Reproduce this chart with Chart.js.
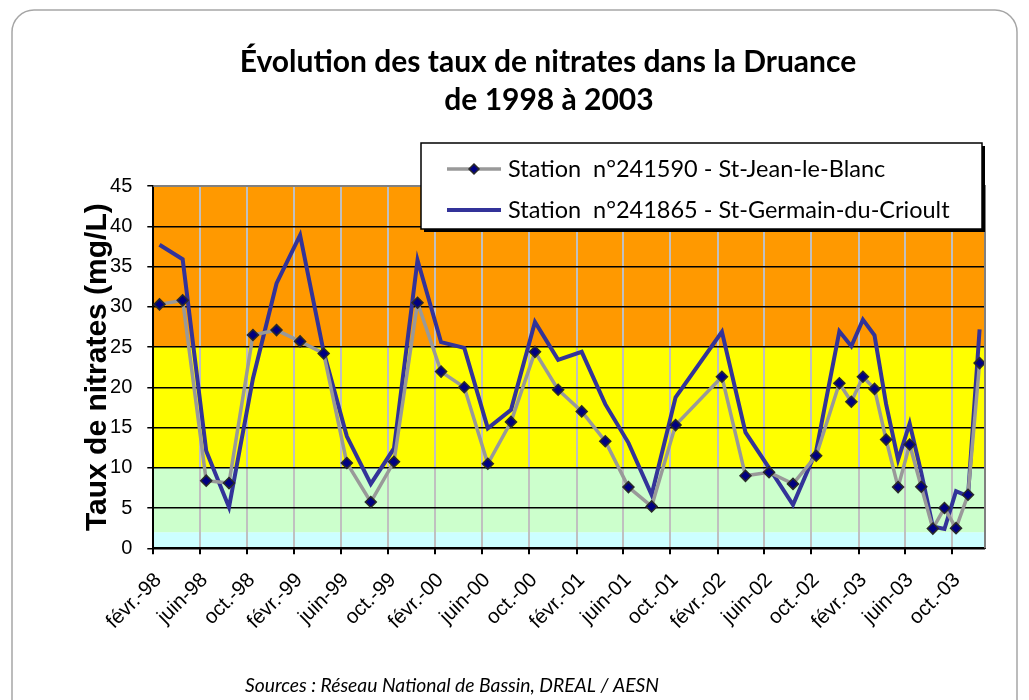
<!DOCTYPE html>
<html>
<head>
<meta charset="utf-8">
<script src="https://cdn.jsdelivr.net/npm/chart.js@4.4.0/dist/chart.umd.min.js"></script>
<style>
  html, body { margin: 0; padding: 0; background: #fff; }
  #wrap { width: 1029px; height: 700px; }
</style>
</head>
<body>
<div id="wrap"><canvas id="myChart" width="1029" height="700"></canvas></div>
<script>
// ---- data ----
const titleLines = ['Évolution des taux de nitrates dans la Druance', 'de 1998 à 2003'];
const seriesNames = ['Station  n°241590 - St-Jean-le-Blanc', 'Station  n°241865 - St-Germain-du-Crioult'];
const sourceText = 'Sources : Réseau National de Bassin, DREAL / AESN';
const yTitle = 'Taux de nitrates (mg/L)';

const sampleDates = [
  '1998-02-17', '1998-04-18', '1998-06-18', '1998-08-16', '1998-10-17', '1998-12-17',
  '1999-02-16', '1999-04-18', '1999-06-17', '1999-08-18', '1999-10-17', '1999-12-17',
  '2000-02-16', '2000-04-16', '2000-06-16', '2000-08-15', '2000-10-16', '2000-12-15',
  '2001-02-14', '2001-04-16', '2001-06-15', '2001-08-14', '2001-10-15',
  '2002-02-12', '2002-04-14', '2002-06-14', '2002-08-15', '2002-10-14', '2002-12-13',
  '2003-01-13', '2003-02-12', '2003-03-14', '2003-04-13', '2003-05-14', '2003-06-13',
  '2003-07-13', '2003-08-12', '2003-09-11', '2003-10-11', '2003-11-11', '2003-12-11'
];
const stJean = [
  30.3, 30.8, 8.4, 8.1, 26.5, 27.1,
  25.7, 24.2, 10.6, 5.75, 10.75, 30.5,
  21.95, 20.0, 10.5, 15.7, 24.4, 19.7,
  17.0, 13.3, 7.6, 5.2, 15.3,
  21.3, 9.0, 9.45, 8.0, 11.5, 20.5,
  18.2, 21.3, 19.8, 13.5, 7.6, 12.9,
  7.65, 2.45, 5.0, 2.5, 6.65, 23.0
];
const stGermain = [
  37.7, 35.9, 12.1, 5.1, 21.1, 32.9,
  38.9, 24.4, 13.9, 8.0, 12.4, 35.8,
  25.6, 24.9, 14.9, 17.2, 28.1, 23.4,
  24.4, 17.9, 13.1, 6.65, 18.75,
  26.9, 14.4, 10.0, 5.4, 12.1, 26.95,
  25.1, 28.4, 26.45, 17.9, 11.0, 15.5,
  9.4, 2.7, 2.4, 7.1, 6.45, 27.2
];

const axisStart = '1998-02-01';
const axisEnd = '2003-12-25';
const tickDates = [
  '1998-02-01', '1998-06-01', '1998-10-01', '1999-02-01', '1999-06-01', '1999-10-01',
  '2000-02-01', '2000-06-01', '2000-10-01', '2001-02-01', '2001-06-01', '2001-10-01',
  '2002-02-01', '2002-06-01', '2002-10-01', '2003-02-01', '2003-06-01', '2003-10-01'
];
const tickLabels = [
  'févr.-98', 'juin-98', 'oct.-98', 'févr.-99', 'juin-99', 'oct.-99',
  'févr.-00', 'juin-00', 'oct.-00', 'févr.-01', 'juin-01', 'oct.-01',
  'févr.-02', 'juin-02', 'oct.-02', 'févr.-03', 'juin-03', 'oct.-03'
];
const bandLimits = [0, 2, 10, 25, 45];
const bandColors = ['#ccffff', '#ccffcc', '#ffff00', '#ff9900'];

function dayOf(s) {
  return (Date.parse(s) - Date.parse(axisStart)) / 86400000;
}
function toPoints(vals) {
  return vals.map((v, i) => ({ x: dayOf(sampleDates[i]), y: v }));
}

const grayColor = '#999999';
const blueColor = '#333399';
const markerFill = '#000080';
const markerEdge = '#2a2a2a';

// background frame, title, sources, bands
const backdrop = {
  id: 'backdrop',
  beforeDraw(chart) {
    const ctx = chart.ctx;
    const area = chart.chartArea;
    const y = chart.scales.y;
    ctx.save();
    ctx.fillStyle = '#fff';
    ctx.fillRect(0, 0, chart.width, chart.height);
    // rounded frame
    ctx.strokeStyle = '#a6a6a6';
    ctx.lineWidth = 1.5;
    ctx.beginPath();
    ctx.roundRect(12, 10, 1005, 720, 22);
    ctx.stroke();
    // title
    ctx.fillStyle = '#000';
    ctx.textAlign = 'center';
    ctx.textBaseline = 'middle';
    ctx.font = 'bold 30px Lato';
    ctx.fillText(titleLines[0], 548, 62);
    ctx.fillText(titleLines[1], 549, 100);
    // sources
    ctx.font = 'italic 19.3px Lato';
    ctx.fillText(sourceText, 452, 686);
    // colour bands
    for (let i = 0; i < bandColors.length; i++) {
      const top = y.getPixelForValue(bandLimits[i + 1]);
      const bot = y.getPixelForValue(bandLimits[i]);
      ctx.fillStyle = bandColors[i];
      ctx.fillRect(area.left, top, area.right - area.left, bot - top);
    }
    ctx.restore();
  },
  afterDraw(chart) {
    const ctx = chart.ctx;
    const area = chart.chartArea;
    ctx.save();
    // plot area border (top, right)
    ctx.strokeStyle = '#808080';
    ctx.lineWidth = 2;
    ctx.beginPath();
    ctx.moveTo(area.left, area.top);
    ctx.lineTo(area.right, area.top);
    ctx.lineTo(area.right, area.bottom);
    ctx.stroke();

    // legend box
    const bx = 421, by = 143, bw = 561, bh = 86;
    ctx.fillStyle = '#000';
    ctx.fillRect(bx + 3, by + 3, bw, bh);
    ctx.fillStyle = '#fff';
    ctx.fillRect(bx, by, bw, bh);
    ctx.strokeStyle = '#000';
    ctx.lineWidth = 1.5;
    ctx.strokeRect(bx, by, bw, bh);

    const rows = [169, 210];
    const colors = [grayColor, blueColor];
    ctx.font = '23.5px Lato';
    ctx.textAlign = 'left';
    ctx.textBaseline = 'middle';
    rows.forEach((ry, i) => {
      ctx.strokeStyle = colors[i];
      ctx.lineWidth = i === 0 ? 3.5 : 4;
      ctx.beginPath();
      ctx.moveTo(447, ry);
      ctx.lineTo(501, ry);
      ctx.stroke();
      if (i === 0) {
        ctx.fillStyle = markerFill;
        ctx.strokeStyle = markerEdge;
        ctx.lineWidth = 1.5;
        ctx.beginPath();
        ctx.moveTo(474, ry - 5);
        ctx.lineTo(479, ry);
        ctx.lineTo(474, ry + 5);
        ctx.lineTo(469, ry);
        ctx.closePath();
        ctx.fill();
        ctx.stroke();
      }
      ctx.fillStyle = '#000';
      ctx.fillText(seriesNames[i], 508, ry);
    });
    ctx.restore();
  }
};

const ctx = document.getElementById('myChart');
const chart = new Chart(ctx, {
  type: 'line',
  data: {
    datasets: [
      {
        label: seriesNames[0],
        data: toPoints(stJean),
        borderColor: grayColor,
        borderWidth: 3.5,
        pointStyle: 'rectRot',
        pointRadius: 5.5,
        pointBackgroundColor: markerFill,
        pointBorderColor: markerEdge,
        pointBorderWidth: 1.5,
        tension: 0,
        fill: false
      },
      {
        label: seriesNames[1],
        data: toPoints(stGermain),
        borderColor: blueColor,
        borderWidth: 4,
        pointRadius: 0,
        tension: 0,
        fill: false
      }
    ]
  },
  options: {
    responsive: false,
    animation: false,
    events: [],
    layout: { padding: { left: 80, top: 186, right: 44, bottom: 0 } },
    plugins: {
      legend: { display: false },
      title: { display: false },
      tooltip: { enabled: false }
    },
    scales: {
      x: {
        type: 'linear',
        min: 0,
        max: dayOf(axisEnd),
        afterBuildTicks: s => { s.ticks = tickDates.map(d => ({ value: dayOf(d) })); },
        afterFit: s => { s.height = 151.7; },
        ticks: {
          autoSkip: false,
          maxRotation: 45,
          minRotation: 45,
          padding: 14,
          labelOffset: 5,
          color: '#000',
          font: { family: 'Liberation Sans', size: 20.5 },
          callback: (v, i) => tickLabels[i]
        },
        grid: { color: '#c0c0c0', lineWidth: 2, tickColor: '#000', tickLength: 6 },
        border: { color: '#000', width: 2 }
      },
      y: {
        min: 0,
        max: 45,
        afterFit: s => { s.width = 73.3; },
        ticks: {
          stepSize: 5,
          padding: 15,
          color: '#000',
          font: { family: 'Liberation Sans', size: 20 }
        },
        grid: { color: '#000', lineWidth: 1.5, tickColor: '#000', tickLength: 6 },
        border: { color: '#000', width: 2 },
        title: {
          display: true,
          text: yTitle,
          color: '#000',
          padding: 0,
          font: { family: 'Liberation Sans', size: 30, weight: 'bold' }
        }
      }
    }
  },
  plugins: [backdrop]
});
</script>
</body>
</html>
